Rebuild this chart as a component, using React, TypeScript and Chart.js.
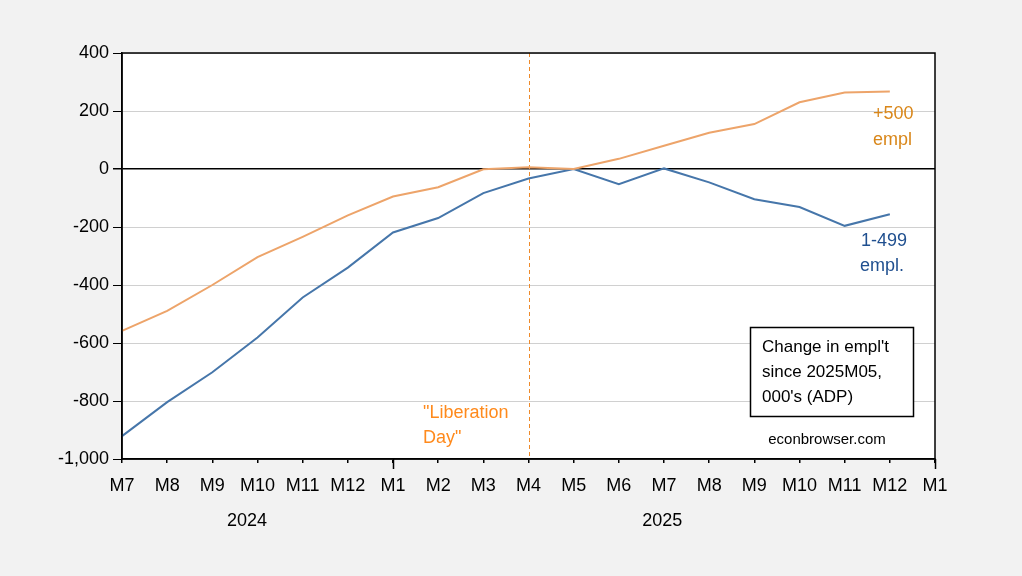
import React, { useEffect, useRef } from "react";
import { Chart, registerables } from "chart.js";

Chart.register(...registerables);

const monthLabels = [
  "M7", "M8", "M9", "M10", "M11", "M12",
  "M1", "M2", "M3", "M4", "M5", "M6", "M7", "M8", "M9", "M10", "M11", "M12",
  "M1",
];

const small499 = [
  -921, -804, -701, -581, -443, -340,
  -219, -169, -83, -33, 0, -52, 2, -46, -104, -131, -196, -156,
  null,
];

const large500 = [
  -558, -489, -400, -304, -234, -160,
  -95, -63, -1, 6, 0, 35, 80, 125, 155, 230, 264, 267,
  null,
];

const yearLabels = ["2024", "2025"];
const yearCenterIndex = [2.77, 11.96];
const liberationIndex = 9;

const FONT = "Arial, 'Liberation Sans', sans-serif";

const decorPlugin = {
  id: "decor",
  beforeDraw(chart: any) {
    const { ctx, chartArea, width, height } = chart;
    ctx.save();
    ctx.fillStyle = "#f2f2f2";
    ctx.fillRect(0, 0, width, height);
    ctx.fillStyle = "#ffffff";
    ctx.fillRect(chartArea.left, chartArea.top, chartArea.right - chartArea.left, chartArea.bottom - chartArea.top);
    ctx.restore();
  },
  beforeDatasetsDraw(chart: any) {
    const { ctx, chartArea } = chart;
    const xs = chart.scales.x;
    const x = Math.round(xs.getPixelForValue(liberationIndex)) + 0.5;
    ctx.save();
    ctx.strokeStyle = "#ee8a2a";
    ctx.lineWidth = 1;
    ctx.setLineDash([4, 3]);
    ctx.beginPath();
    ctx.moveTo(x, chartArea.top);
    ctx.lineTo(x, chartArea.bottom);
    ctx.stroke();
    ctx.restore();
  },
  afterDraw(chart: any) {
    const { ctx, chartArea } = chart;
    const xs = chart.scales.x;
    ctx.save();
    ctx.strokeStyle = "#000000";
    ctx.lineWidth = 1.5;
    ctx.strokeRect(chartArea.left, chartArea.top, chartArea.right - chartArea.left, chartArea.bottom - chartArea.top);
    monthLabels.forEach((m, i) => {
      if (m === "M1") {
        const x = Math.round(xs.getPixelForValue(i)) + 0.5;
        ctx.beginPath();
        ctx.moveTo(x, chartArea.bottom);
        ctx.lineTo(x, chartArea.bottom + 10);
        ctx.stroke();
      }
    });
    ctx.fillStyle = "#000000";
    ctx.font = `18px ${FONT}`;
    ctx.textAlign = "center";
    ctx.textBaseline = "middle";
    yearLabels.forEach((y, i) => {
      ctx.fillText(y, xs.getPixelForValue(yearCenterIndex[i]), chartArea.bottom + 62);
    });
    ctx.textAlign = "left";
    ctx.font = `18px ${FONT}`;
    ctx.fillStyle = "#d9871a";
    ctx.fillText("+500", 873, 114);
    ctx.fillText("empl", 873, 140);
    ctx.fillStyle = "#1f4f8f";
    ctx.fillText("1-499", 861, 241);
    ctx.fillText("empl.", 860, 266);
    ctx.fillStyle = "#ff8a1c";
    ctx.fillText("\"Liberation", 423, 413);
    ctx.fillText("Day\"", 423, 438);
    ctx.fillStyle = "#ffffff";
    ctx.fillRect(750, 327, 163, 89);
    ctx.strokeStyle = "#000000";
    ctx.lineWidth = 1.5;
    ctx.strokeRect(750.5, 327.5, 163, 89);
    ctx.fillStyle = "#000000";
    ctx.font = `17px ${FONT}`;
    ctx.fillText("Change in empl't", 762, 347);
    ctx.fillText("since 2025M05,", 762, 372);
    ctx.fillText("000's (ADP)", 762, 397);
    ctx.font = `15px ${FONT}`;
    ctx.textAlign = "center";
    ctx.fillText("econbrowser.com", 827, 440);
    ctx.restore();
  },
};

export default function App() {
  const ref = useRef<HTMLCanvasElement | null>(null);
  useEffect(() => {
    document.body.style.margin = "0";
    document.body.style.background = "#f2f2f2";
    if (!ref.current) return;
    const chart = new Chart(ref.current, {
      type: "line",
      data: {
        labels: monthLabels,
        datasets: [
          {
            label: "+500 empl",
            data: large500,
            borderColor: "#eda46a",
            borderWidth: 2,
            pointRadius: 0,
            tension: 0,
            spanGaps: false,
          },
          {
            label: "1-499 empl.",
            data: small499,
            borderColor: "#4676aa",
            borderWidth: 2,
            pointRadius: 0,
            tension: 0,
            spanGaps: false,
          },
        ],
      },
      options: {
        responsive: false,
        animation: false,
        layout: { padding: { top: 53, right: 87, left: 0, bottom: 0 } },
        plugins: { legend: { display: false }, tooltip: { enabled: false } },
        scales: {
          x: {
            type: "category",
            offset: false,
            grid: {
              display: true,
              drawOnChartArea: false,
              tickLength: 4,
              color: "#000000",
              lineWidth: 1.5,
            },
            border: { display: true, color: "#000000", width: 1.5 },
            ticks: {
              color: "#000000",
              font: { family: FONT, size: 18 },
              padding: 12,
              maxRotation: 0,
              autoSkip: false,
            },
            afterFit(scale: any) {
              scale.height = 117;
            },
          },
          y: {
            min: -1000,
            max: 400,
            grid: {
              color: (c: any) => (c.tick && c.tick.value === 0 ? "#000000" : "#d0d0d0"),
              lineWidth: (c: any) => (c.tick && c.tick.value === 0 ? 1.5 : 1),
              tickColor: "#000000",
              tickLength: 9,
            },
            border: { display: true, color: "#000000", width: 1.5 },
            ticks: {
              stepSize: 200,
              color: "#000000",
              font: { family: FONT, size: 18 },
              padding: 4,
              callback: (v: any) => Number(v).toLocaleString("en-US"),
            },
            afterFit(scale: any) {
              scale.width = 122;
            },
          },
        },
      },
      plugins: [decorPlugin],
    });
    return () => chart.destroy();
  }, []);
  return <canvas ref={ref} width={1022} height={576} style={{ display: "block" }} />;
}
